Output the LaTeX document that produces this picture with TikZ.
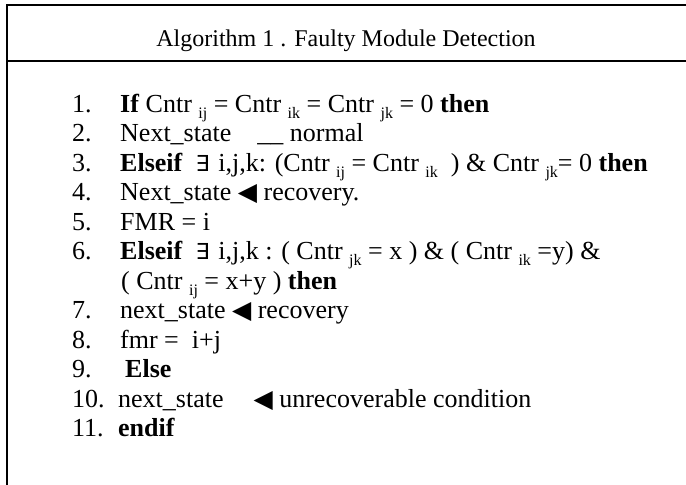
\documentclass[tikz,border=0pt]{standalone}
\usepackage{fontspec}
\setmainfont{Liberation Serif}
\newfontfamily\symfont{DejaVu Sans}
% lowered index after a counter name
\newcommand\idx[1]{\raisebox{-0.24em}{\fontsize{16}{16}\selectfont #1}}
\newcommand\larrow{{\symfont\fontsize{25}{25}\selectfont ◀}}
\newcommand\exi{{\symfont\fontsize{22}{22}\selectfont ∃}}
\begin{document}
\begin{tikzpicture}[x=1pt,y=-1pt,
  rule/.style={line width=2pt},
  body/.style={anchor=base west,inner sep=0pt,font=\fontsize{26}{30}\selectfont},
  num/.style={body}]
\useasboundingbox (0,0) rectangle (686,485);
% frame and header rule
\coordinate (tl) at (7,5);
\coordinate (tr) at (686,5);
\coordinate (bl) at (7,485);
\coordinate (ml) at (7,61);
\coordinate (mr) at (686,61);
\draw[rule] (tr) -- (tl) -- (bl);
\draw[rule] (ml) -- (mr);
% title
\node[body,anchor=base,font=\fontsize{24}{28}\selectfont] (title) at (346,46) {Algorithm 1 . Faulty Module Detection};
% line numbers
\foreach \n/\y in {1/112,2/141.5,3/171,4/200.5,5/230,6/259.5,7/318.5,8/348,9/377.5,10/407,11/436.5}
  \node[num] (n\n) at (72,\y) {\n.};
% statements
\node[body] (l1) at (120,112) {\textbf{If} Cntr \idx{ij} = Cntr \idx{ik} = Cntr \idx{jk} = 0 \textbf{then}};
\node[body] (l2) at (120,141.5) {Next\_state\hspace{1em}\_\_ normal};
\node[body] (l3) at (120,171) {\textbf{Elseif}\hspace{13pt}\exi\hspace{9pt}i,j,k: (Cntr \idx{ij} = Cntr \idx{ik}\ \ ) \& Cntr \idx{jk}= 0 \textbf{then}};
\node[body] (l4) at (120,200.5) {Next\_state \larrow\ recovery.};
\node[body] (l5) at (120,230) {FMR = i};
\node[body] (l6) at (120,259.5) {\textbf{Elseif}\hspace{13pt}\exi\hspace{9pt}i,j,k : ( Cntr \idx{jk} = x ) \& ( Cntr \idx{ik} =y) \&};
\node[body] (l6b) at (121,289) {( Cntr \idx{ij} = x+y ) \textbf{then}};
\node[body] (l7) at (120,318.5) {next\_state \larrow\ recovery};
\node[body] (l8) at (120,348) {fmr =\ \ i+j};
\node[body] (l9) at (125,377.5) {\textbf{Else}};
\node[body] (l10) at (118,407) {next\_state\hspace{30pt}\larrow\ unrecoverable condition};
\node[body] (l11) at (118,436.5) {\textbf{endif}};
\end{tikzpicture}
\end{document}
